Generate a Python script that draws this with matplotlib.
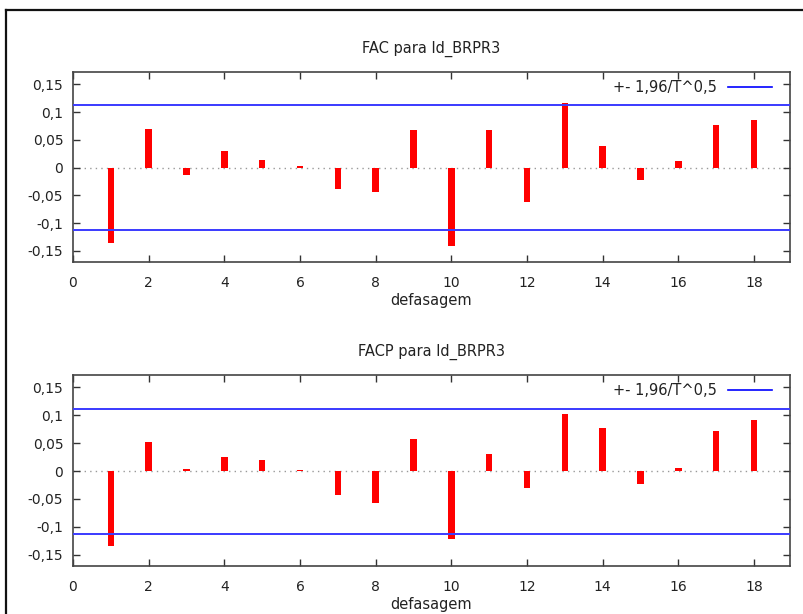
import numpy as np
import matplotlib.pyplot as plt
from matplotlib.lines import Line2D

# lags and correlations
lags = np.arange(1, 19)
fac = [-0.136, 0.070, -0.014, 0.029, 0.014, 0.002, -0.039, -0.044, 0.068,
       -0.141, 0.068, -0.062, 0.117, 0.038, -0.023, 0.011, 0.077, 0.086]
facp = [-0.135, 0.052, 0.003, 0.025, 0.020, 0.002, -0.042, -0.057, 0.058,
        -0.122, 0.031, -0.030, 0.103, 0.077, -0.023, 0.005, 0.072, 0.092]
band = 0.112  # 1.96/sqrt(T)

titles = ["FAC para ld_BRPR3", "FACP para ld_BRPR3"]
yticks = [-0.15, -0.1, -0.05, 0, 0.05, 0.1, 0.15]
ytick_labels = ["-0,15", "-0,1", "-0,05", "0", "0,05", "0,1", "0,15"]
xticks = list(range(0, 19, 2))

plt.rcParams['font.family'] = 'DejaVu Sans'
plt.rcParams['font.size'] = 10
txt = '#222222'

fig = plt.figure(figsize=(8.04, 6.14), dpi=100)

W, H = 804, 614
boxes = [(73, 72, 790, 262), (73, 375, 790, 566)]

for (x0, y0, x1, y1), vals, title in zip(boxes, [fac, facp], titles):
    ax = fig.add_axes([x0 / W, 1 - y1 / H, (x1 - x0) / W, (y1 - y0) / H])
    ax.axhline(0, color='#999999', lw=1, ls=(0, (1, 3)), zorder=1)
    ax.bar(lags, vals, width=0.17, color='#ff0000', zorder=2)
    ax.axhline(band, color='#3a3aff', lw=1.4, zorder=3, label='+- 1,96/T^0,5')
    ax.axhline(-band, color='#3a3aff', lw=1.4, zorder=3)
    ax.set_xlim(0, 18.95)
    ax.set_ylim(-0.17, 0.172)
    ax.set_xticks(xticks)
    ax.set_yticks(yticks)
    ax.set_yticklabels(ytick_labels)
    ax.tick_params(direction='in', length=5, width=1, color='#333333',
                   top=True, right=True, labelcolor=txt)
    ax.tick_params(axis='x', pad=10)
    ax.tick_params(axis='y', pad=7)
    for s in ax.spines.values():
        s.set_color('#444444')
        s.set_linewidth(1.2)
    ax.set_xlabel('defasagem', color=txt, labelpad=2, fontsize=10.5)
    ax.set_title(title, color=txt, pad=14, fontsize=10.5)
    aw, ah = x1 - x0, y1 - y0
    leg = ax.legend(loc='upper right', bbox_to_anchor=(1 - 18 / aw, 1 - 8 / ah),
                    frameon=False, markerfirst=False,
                    handlelength=3.0, handletextpad=0.8, borderaxespad=0,
                    borderpad=0, fontsize=10.5, labelcolor=txt)
    leg.get_lines()[0].set_color('#0000ff')
    leg.get_lines()[0].set_linewidth(1.2)

# outer frame (only top and left edges visible)
fig.add_artist(Line2D([6 / W, 6 / W], [0, 1 - 10 / H], color='#111111', lw=1.6))
fig.add_artist(Line2D([6 / W, 1], [1 - 10 / H, 1 - 10 / H], color='#111111', lw=1.6))

fig.savefig('out.png', dpi=100)
